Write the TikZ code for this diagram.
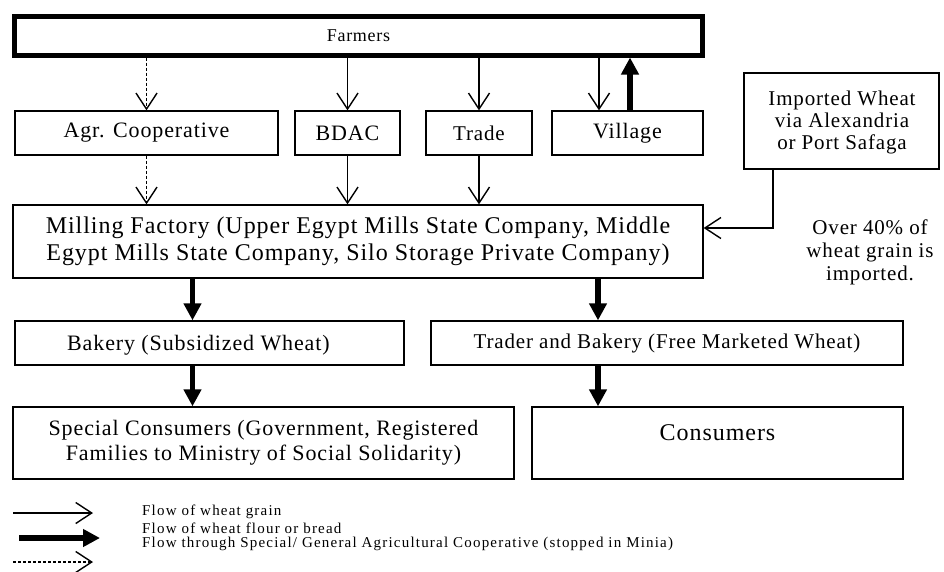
\documentclass[tikz,border=0pt]{standalone}
\usepackage{fontspec}
\setmainfont{Liberation Serif}[LetterSpace=4]
\newfontfamily\legfont{Liberation Serif}[LetterSpace=8]
\usetikzlibrary{arrows.meta}
\tikzset{
  box/.style={draw, line width=1.3pt, inner sep=0pt, align=center},
  thinarrow/.style={draw, line width=1.4pt, -{Straight Barb[length=16pt,width=21pt,line width=1.4pt]}},
  dasharrow/.style={draw, line width=1.4pt, dash pattern=on 3pt off 2pt, -{Straight Barb[length=16pt,width=21pt,line width=1.4pt]}},
  thickarrow/.style={draw, line width=5.5pt, -{Triangle[length=17pt,width=17pt]}},
  lbl/.style={inner sep=0pt, align=center},
  legtxt/.style={inner sep=0pt, anchor=west, font=\legfont\fontsize{15}{16}\selectfont},
}
\begin{document}
\begin{tikzpicture}[x=1pt,y=-1pt]
\useasboundingbox (0,0) rectangle (944,571);
% Farmers
\node[box, line width=5pt, minimum width=688pt, minimum height=38.5pt, font=\fontsize{18}{21}\selectfont] (farm) at (358.5,35.75) {Farmers};
% second row
\node[box, minimum width=263pt, minimum height=44pt, font=\fontsize{22}{25}\selectfont] (agr) at (146.5,133) {Agr. Cooperative};
\node[box, minimum width=105pt, minimum height=44pt, font=\fontsize{22}{25}\selectfont] (bdac) at (347.5,133) {BDAC};
\node[box, minimum width=106pt, minimum height=44pt, font=\fontsize{21}{24}\selectfont] (trade) at (479,133) {Trade};
\node[box, minimum width=151pt, minimum height=44pt, font=\fontsize{22}{25}\selectfont] (vill) at (627.5,133) {Village};
\node[box, minimum width=195pt, minimum height=96pt] (imp) at (841.5,121) {};
\node[lbl, font=\fontsize{21}{22}\selectfont] (imptxt) at (842,122) {Imported Wheat\\via Alexandria\\or Port Safaga};
% milling
\node[box, minimum width=690pt, minimum height=73pt, font=\fontsize{24}{27}\selectfont] (mill) at (358,241.5) {Milling Factory (Upper Egypt Mills State Company, Middle\\Egypt Mills State Company, Silo Storage Private Company)};
\node[lbl, font=\fontsize{21}{23}\selectfont] (note) at (870,252) {Over 40\% of\\wheat grain is\\imported.};
% bakeries
\node[box, minimum width=389pt, minimum height=44pt] (bak) at (209.5,343) {};
\node[lbl, font=\fontsize{22}{25}\selectfont, anchor=west] (baktxt) at (67,345) {Bakery (Subsidized Wheat)};
\node[box, minimum width=472pt, minimum height=44pt, font=\fontsize{21}{24}\selectfont] (trad) at (667,343) {Trader and Bakery (Free Marketed Wheat)};
% consumers
\node[box, minimum width=501pt, minimum height=72pt, font=\fontsize{22}{25}\selectfont] (spec) at (263.5,443) {Special Consumers (Government, Registered\\Families to Ministry of Social Solidarity)};
\node[box, minimum width=371pt, minimum height=72pt] (cons) at (717.5,443) {};
\node[lbl, font=\fontsize{24}{27}\selectfont] (constxt) at (717.5,433) {Consumers};
% connectors
\draw[dasharrow] (farm.south -| agr) -- (agr.north);
\draw[thinarrow] (farm.south -| bdac) -- (bdac.north);
\draw[thinarrow] (farm.south -| trade) -- (trade.north);
\coordinate (vd) at (599,0);
\coordinate (vu) at (630,0);
\draw[thinarrow] (farm.south -| vd) -- (vill.north -| vd);
\draw[thickarrow] (vill.north -| vu) -- (farm.south -| vu);
\draw[dasharrow] (agr.south) -- (mill.north -| agr);
\draw[thinarrow] (bdac.south) -- (mill.north -| bdac);
\draw[thinarrow] (trade.south) -- (mill.north -| trade);
\coordinate (ix) at (773,0);
\coordinate (iy) at (0,228);
\draw[thinarrow] (imp.south -| ix) -- (ix |- iy) -- (mill.east |- iy);
\coordinate (bl) at (192.5,0);
\coordinate (br) at (598,0);
\draw[thickarrow] (mill.south -| bl) -- (bak.north -| bl);
\draw[thickarrow] (mill.south -| br) -- (trad.north -| br);
\draw[thickarrow] (bak.south -| bl) -- (spec.north -| bl);
\draw[thickarrow] (trad.south -| br) -- (cons.north -| br);
% legend
\coordinate (l1a) at (13,513); \coordinate (l1b) at (93,513);
\coordinate (l2a) at (19,538); \coordinate (l2b) at (100,538);
\coordinate (l3a) at (13,562); \coordinate (l3b) at (93,562);
\draw[thinarrow] (l1a) -- (l1b);
\draw[thickarrow] (l2a) -- (l2b);
\draw[dasharrow] (l3a) -- (l3b);
\node[legtxt] (lt1) at (142,512) {Flow of wheat grain};
\node[legtxt] (lt2) at (142,528) {Flow of wheat flour or bread};
\node[legtxt] (lt3) at (142,544) {Flow through Special/ General Agricultural Cooperative (stopped in Minia)};
\end{tikzpicture}
\end{document}
